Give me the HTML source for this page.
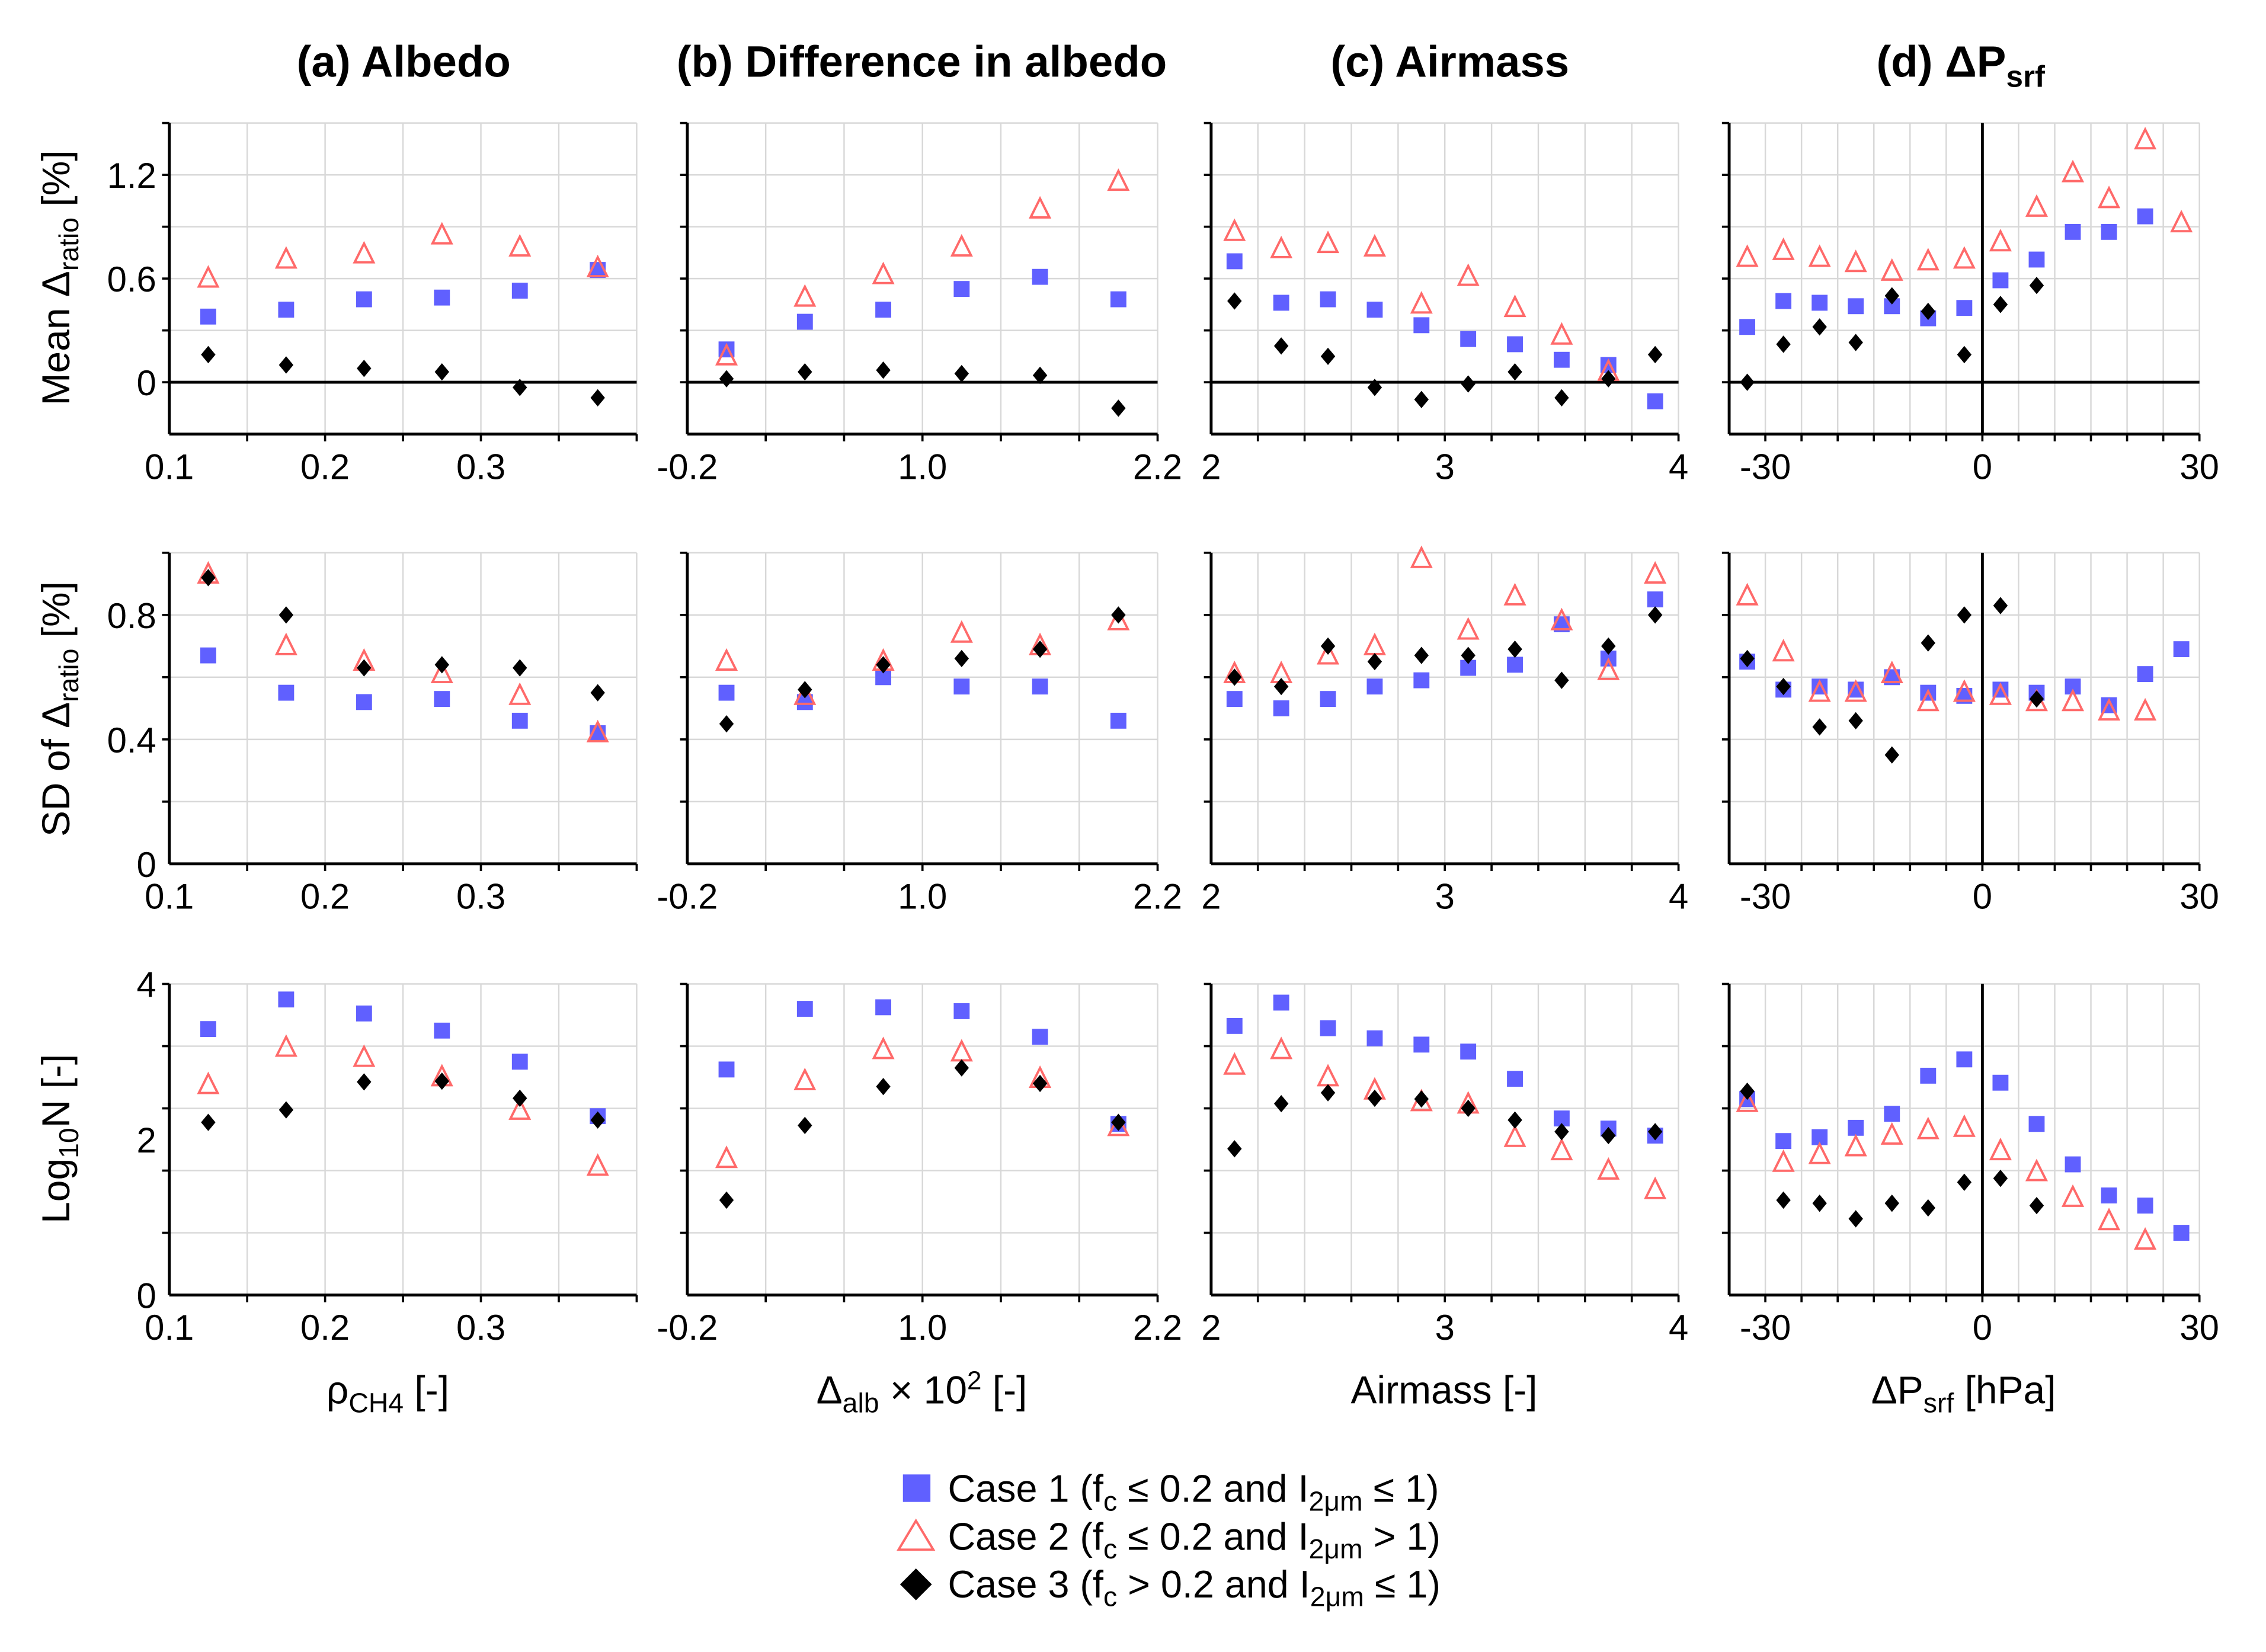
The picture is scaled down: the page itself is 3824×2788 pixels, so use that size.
<!DOCTYPE html>
<html><head><meta charset="utf-8"><style>
html,body{margin:0;padding:0;background:#fff}
svg{display:block;font-family:"Liberation Sans",sans-serif}
</style></head><body>
<svg id="fig" width="3824" height="2788" viewBox="0 0 1566 1141.7" xmlns="http://www.w3.org/2000/svg">
<g id="titles" font-weight="bold" font-size="30.5" text-anchor="middle">
<text x="279" y="53">(a) Albedo</text>
<text x="637" y="53">(b) Difference in albedo</text>
<text x="1002" y="53">(c) Airmass</text>
<text x="1355" y="53">(d) ΔP<tspan font-size="21" dy="7">srf</tspan></text>
</g>
<g font-size="27" text-anchor="middle">
<text transform="translate(48,192) rotate(-90)">Mean Δ<tspan font-size="19" dy="6">ratio</tspan><tspan dy="-6"> [%]</tspan></text>
<text transform="translate(48,490) rotate(-90)">SD of Δ<tspan font-size="19" dy="6">ratio</tspan><tspan dy="-6"> [%]</tspan></text>
<text transform="translate(48,787) rotate(-90)">Log<tspan font-size="19" dy="6">10</tspan><tspan dy="-6">N [-]</tspan></text>
<text x="268" y="970">ρ<tspan font-size="19" dy="6">CH4</tspan><tspan dy="-6"> [-]</tspan></text>
<text x="637" y="970">Δ<tspan font-size="19" dy="6">alb</tspan><tspan dy="-6">  × 10</tspan><tspan font-size="18" dy="-10">2</tspan><tspan dy="10"> [-]</tspan></text>
<text x="998" y="970">Airmass [-]</text>
<text x="1357" y="970">ΔP<tspan font-size="19" dy="6">srf</tspan><tspan dy="-6"> [hPa]</tspan></text>
</g>
<g id="legend" font-size="26.5">
<g><rect x="624" y="1019" width="19" height="19" fill="#6060ff"/><text x="655" y="1038">Case 1 (f<tspan font-size="19" dy="6">c</tspan><tspan dy="-6"> ≤ 0.2 and I</tspan><tspan font-size="19" dy="6">2μm</tspan><tspan dy="-6"> ≤ 1)</tspan></text></g>
<g><polygon points="633,1051 645,1071 621,1071" fill="none" stroke="#ff6a6a" stroke-width="1.6"/><text x="655" y="1071">Case 2 (f<tspan font-size="19" dy="6">c</tspan><tspan dy="-6"> ≤ 0.2 and I</tspan><tspan font-size="19" dy="6">2μm</tspan><tspan dy="-6"> &gt; 1)</tspan></text></g>
<g><polygon points="633,1084 644,1095 633,1106 622,1095" fill="#000"/><text x="655" y="1104">Case 3 (f<tspan font-size="19" dy="6">c</tspan><tspan dy="-6"> &gt; 0.2 and I</tspan><tspan font-size="19" dy="6">2μm</tspan><tspan dy="-6"> ≤ 1)</tspan></text></g>
</g>
<g id="panels"></g>
</svg>
<script>
// x bin centers per column
const xA = [0.125,0.175,0.225,0.275,0.325,0.375];
const xB = [0.0,0.4,0.8,1.2,1.6,2.0];
const xC = [2.1,2.3,2.5,2.7,2.9,3.1,3.3,3.5,3.7,3.9];
const xD = [-32.5,-27.5,-22.5,-17.5,-12.5,-7.5,-2.5,2.5,7.5,12.5,17.5,22.5,27.5];
// row 1: mean
const meanA1=[0.38,0.42,0.48,0.49,0.53,0.65], meanA2=[0.60,0.71,0.74,0.85,0.78,0.66], meanA3=[0.16,0.10,0.08,0.06,-0.03,-0.09];
const meanB1=[0.19,0.35,0.42,0.54,0.61,0.48], meanB2=[0.15,0.49,0.62,0.78,1.00,1.16], meanB3=[0.02,0.06,0.07,0.05,0.04,-0.15];
const meanC1=[0.70,0.46,0.48,0.42,0.33,0.25,0.22,0.13,0.10,-0.11], meanC2=[0.87,0.77,0.80,0.78,0.45,0.61,0.43,0.27,0.06,null], meanC3=[0.47,0.21,0.15,-0.03,-0.10,-0.01,0.06,-0.09,0.02,0.16];
const meanD1=[0.32,0.47,0.46,0.44,0.44,0.37,0.43,0.59,0.71,0.87,0.87,0.96,null], meanD2=[0.72,0.76,0.72,0.69,0.64,0.70,0.71,0.81,1.01,1.21,1.06,1.40,0.92], meanD3=[0.00,0.22,0.32,0.23,0.50,0.41,0.16,0.45,0.56,null,null,null,null];
// row 2: SD
const sdA1=[0.67,0.55,0.52,0.53,0.46,0.42], sdA2=[0.93,0.70,0.65,0.61,0.54,0.42], sdA3=[0.92,0.80,0.63,0.64,0.63,0.55];
const sdB1=[0.55,0.52,0.60,0.57,0.57,0.46], sdB2=[0.65,0.54,0.65,0.74,0.70,0.78], sdB3=[0.45,0.56,0.64,0.66,0.69,0.80];
const sdC1=[0.53,0.50,0.53,0.57,0.59,0.63,0.64,0.77,0.66,0.85], sdC2=[0.61,0.61,0.67,0.70,0.98,0.75,0.86,0.78,0.62,0.93], sdC3=[0.60,0.57,0.70,0.65,0.67,0.67,0.69,0.59,0.70,0.80];
const sdD1=[0.65,0.56,0.57,0.56,0.60,0.55,0.54,0.56,0.55,0.57,0.51,0.61,0.69], sdD2=[0.86,0.68,0.55,0.55,0.61,0.52,0.55,0.54,0.52,0.52,0.49,0.49,null], sdD3=[0.66,0.57,0.44,0.46,0.35,0.71,0.80,0.83,0.53,null,null,null,null];
// row 3: log10 N
const nA1=[3.42,3.80,3.62,3.40,3.00,2.30], nA2=[2.70,3.18,3.05,2.80,2.37,1.65], nA3=[2.22,2.38,2.74,2.75,2.53,2.25];
const nB1=[2.90,3.68,3.70,3.65,3.32,2.20], nB2=[1.75,2.75,3.15,3.12,2.78,2.16], nB3=[1.22,2.18,2.68,2.92,2.72,2.22];
const nC1=[3.46,3.76,3.43,3.30,3.22,3.13,2.78,2.27,2.14,2.05], nC2=[2.95,3.15,2.80,2.63,2.48,2.45,2.02,1.85,1.60,1.35], nC3=[1.88,2.46,2.60,2.53,2.52,2.40,2.25,2.10,2.05,2.10];
const nD1=[2.52,1.98,2.03,2.15,2.33,2.82,3.03,2.73,2.20,1.68,1.28,1.15,0.80], nD2=[2.47,1.70,1.80,1.90,2.05,2.12,2.15,1.85,1.58,1.25,0.95,0.70,null], nD3=[2.62,1.22,1.18,0.98,1.18,1.12,1.45,1.50,1.15,null,null,null,null];
// tick labels
const xTickA=["0.1","0.2","0.3"], xTickB=["-0.2","1.0","2.2"], xTickC=["2","3","4"], xTickD=["-30","0","30"];
const yTick1=["0","0.6","1.2"], yTick2=["0","0.4","0.8"], yTick3=["0","2","4"];

const NS="http://www.w3.org/2000/svg";
const root=document.getElementById('panels');
function mk(tag,attrs,parent){const e=document.createElementNS(NS,tag);for(const k in attrs)e.setAttribute(k,attrs[k]);parent.appendChild(e);return e;}

const cols=[
 {key:'a',px0:117,px1:440,x0:0.1,x1:0.4,gx:0.05,xs:xA,ticks:[0.1,0.2,0.3],tl:xTickA,vzero:false},
 {key:'b',px0:475,px1:800,x0:-0.2,x1:2.2,gx:0.4,xs:xB,ticks:[-0.2,1.0,2.2],tl:xTickB,vzero:false},
 {key:'c',px0:837,px1:1160,x0:2,x1:4,gx:0.2,xs:xC,ticks:[2,3,4],tl:xTickC,vzero:false},
 {key:'d',px0:1195,px1:1520,x0:-35,x1:30,gx:5,xs:xD,ticks:[-30,0,30],tl:xTickD,vzero:true}];
const rows=[
 {key:'mean',py0:85,py1:300,y0:-0.3,y1:1.5,gy:0.3,ticks:[0,0.6,1.2],tl:yTick1,hzero:true,data:[[meanA1,meanA2,meanA3],[meanB1,meanB2,meanB3],[meanC1,meanC2,meanC3],[meanD1,meanD2,meanD3]]},
 {key:'sd',py0:382,py1:597,y0:0,y1:1.0,gy:0.2,ticks:[0,0.4,0.8],tl:yTick2,hzero:false,data:[[sdA1,sdA2,sdA3],[sdB1,sdB2,sdB3],[sdC1,sdC2,sdC3],[sdD1,sdD2,sdD3]]},
 {key:'logn',py0:680,py1:895,y0:0,y1:4,gy:0.8,ticks:[0,2,4],tl:yTick3,hzero:false,data:[[nA1,nA2,nA3],[nB1,nB2,nB3],[nC1,nC2,nC3],[nD1,nD2,nD3]]}];

rows.forEach((r,ri)=>{cols.forEach((c,ci)=>{
 const g=mk('g',{},root);
 
 
 const X=v=>c.px0+(v-c.x0)/(c.x1-c.x0)*(c.px1-c.px0);
 const Y=v=>r.py1-(v-r.y0)/(r.y1-r.y0)*(r.py1-r.py0);
 const nx=Math.round((c.x1-c.x0)/c.gx);
 for(let i=1;i<=nx;i++){const x=X(c.x0+i*c.gx);mk('line',{x1:x,x2:x,y1:r.py0,y2:r.py1,stroke:'#d8d8d8','stroke-width':1},g);
   mk('line',{x1:x,x2:x,y1:r.py1,y2:r.py1+5,stroke:'#000','stroke-width':1.5},g);}
 const ny=Math.round((r.y1-r.y0)/r.gy);
 for(let i=1;i<=ny;i++){const y=Y(r.y0+i*r.gy);mk('line',{x1:c.px0,x2:c.px1,y1:y,y2:y,stroke:'#d8d8d8','stroke-width':1},g);
   mk('line',{x1:c.px0-5,x2:c.px0,y1:y,y2:y,stroke:'#000','stroke-width':1.5},g);}
 const ax=mk('line',{x1:c.px0,x2:c.px1,y1:r.py1,y2:r.py1,stroke:'#000','stroke-width':2},g);
 
 
 const ay=mk('line',{x1:c.px0,x2:c.px0,y1:r.py0,y2:r.py1,stroke:'#000','stroke-width':2},g);
 
 
 if(r.hzero){const zl=mk('line',{x1:c.px0,x2:c.px1,y1:Y(0),y2:Y(0),stroke:'#000','stroke-width':2},g);
   
   }
 if(c.vzero){const vl=mk('line',{x1:X(0),x2:X(0),y1:r.py0,y2:r.py1,stroke:'#000','stroke-width':2},g);
   
   }
 c.ticks.forEach((t,i)=>{const tx=mk('text',{x:X(t),y:r.py1+31,'font-size':24.5,'text-anchor':'middle'},g);tx.textContent=c.tl[i];
   
   });
 if(ci===0){r.ticks.forEach((t,i)=>{const ty=mk('text',{x:c.px0-9,y:Y(t)+9,'font-size':24.5,'text-anchor':'end'},g);ty.textContent=r.tl[i];
   
   });}
 const [s1,s2,s3]=r.data[ci];
 c.xs.forEach((xv,i)=>{
   if(s1[i]!=null){const x=X(xv),y=Y(s1[i]);const m=mk('rect',{x:x-5.5,y:y-5.5,width:11,height:11,fill:'#6060ff'},g);
     
     }
 });
 c.xs.forEach((xv,i)=>{
   if(s2[i]!=null){const x=X(xv),y=Y(s2[i]);const m=mk('polygon',{points:`${x},${y-7.5} ${x+6.5},${y+5.5} ${x-6.5},${y+5.5}`,fill:'none',stroke:'#ff6a6a','stroke-width':1.6},g);
     
     }
 });
 c.xs.forEach((xv,i)=>{
   if(s3[i]!=null){const x=X(xv),y=Y(s3[i]);const m=mk('polygon',{points:`${x},${y-6} ${x+5},${y} ${x},${y+6} ${x-5},${y}`,fill:'#000'},g);
     
     }
 });
});});
</script>
</body></html>
